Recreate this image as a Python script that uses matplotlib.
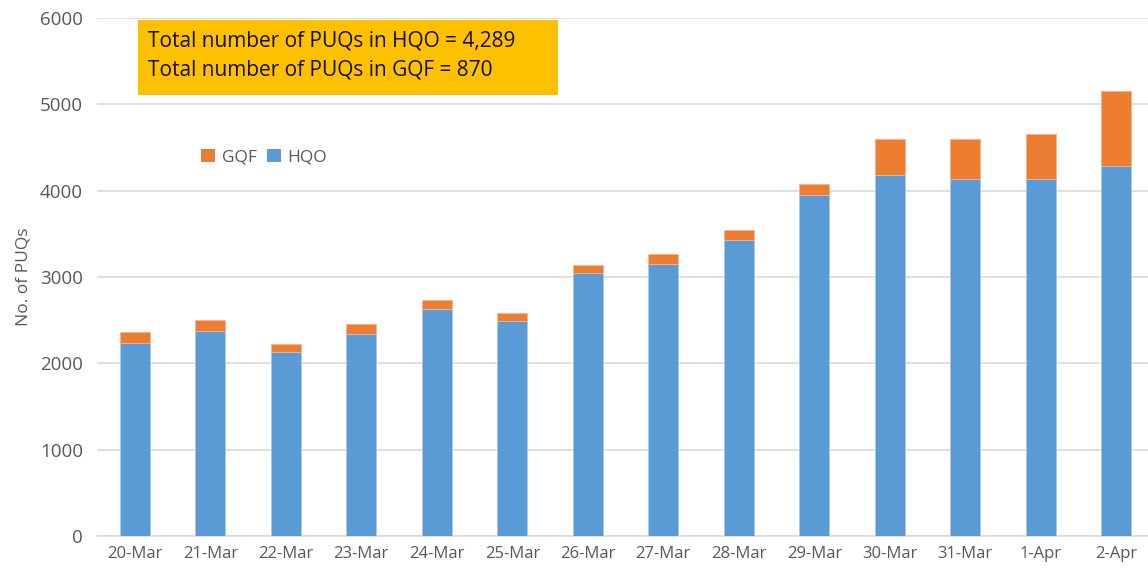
import matplotlib
matplotlib.use("Agg")
import matplotlib.pyplot as plt
from matplotlib.patches import Patch, Rectangle
import numpy as np

dates = ["20-Mar", "21-Mar", "22-Mar", "23-Mar", "24-Mar", "25-Mar", "26-Mar",
         "27-Mar", "28-Mar", "29-Mar", "30-Mar", "31-Mar", "1-Apr", "2-Apr"]
hqo = [2233, 2375, 2128, 2337, 2627, 2488, 3044, 3148, 3430, 3948, 4180, 4140, 4140, 4289]
gqf = [131, 131, 100, 119, 107, 99, 100, 116, 112, 127, 424, 457, 515, 870]
y_ticks = [0, 1000, 2000, 3000, 4000, 5000, 6000]
box_lines = ["Total number of PUQs in HQO = 4,289", "Total number of PUQs in GQF = 870"]

BLUE = "#5B9BD5"
ORANGE = "#ED7D31"
GRID = "#D9D9D9"
TXT = "#595959"

W, H = 1148, 572
fig = plt.figure(figsize=(W / 100, H / 100), dpi=100)
ax = fig.add_axes([97 / W, (H - 536) / H, 1057 / W, 518 / H])

x = np.arange(len(dates))
ax.bar(x, hqo, width=0.4, color=BLUE, edgecolor="#A9C8EA", linewidth=0.6, zorder=3, label="HQO")
ax.bar(x, gqf, bottom=hqo, width=0.4, color=ORANGE, edgecolor="#F5B48C", linewidth=0.6, zorder=3, label="GQF")

ax.set_xlim(-0.5, len(dates) - 0.5)
ax.set_ylim(0, 6000)
ax.set_yticks(y_ticks)
ax.set_xticks(x)
ax.set_xticklabels(dates, fontsize=12, color=TXT, family="Open Sans")
ax.set_yticklabels([str(v) for v in y_ticks], fontsize=13.5, color=TXT, family="Open Sans")
ax.tick_params(axis="both", length=0)
ax.tick_params(axis="x", pad=7)
ax.tick_params(axis="y", pad=10)
ax.grid(axis="y", color=GRID, linewidth=1.2, zorder=0)
for s in ["top", "right", "left"]:
    ax.spines[s].set_visible(False)
ax.spines["bottom"].set_color(GRID)
ax.spines["bottom"].set_linewidth(1.2)
ax.set_ylabel("No. of PUQs", fontsize=12.5, color=TXT, family="Open Sans", labelpad=6)

handles = [Patch(facecolor=ORANGE, label="GQF"), Patch(facecolor=BLUE, label="HQO")]
fig.legend(handles=handles, loc="center", bbox_to_anchor=(264 / W, 1 - 157 / H), ncol=2,
           frameon=False, prop={"family": "Open Sans", "size": 12.5}, labelcolor=TXT,
           handlelength=0.8, handleheight=0.8, handletextpad=0.4, columnspacing=0.6)

# yellow annotation box
fig.patches.append(Rectangle((138 / W, 1 - 95 / H), (558 - 138) / W, (95 - 20) / H,
                             transform=fig.transFigure, facecolor="#FFC000", edgecolor="none", zorder=5))
fig.text(148 / W, 1 - 41 / H, box_lines[0], fontsize=15, family="Open Sans", color="#111111",
         va="center", ha="left", zorder=6)
fig.text(148 / W, 1 - 70 / H, box_lines[1], fontsize=15, family="Open Sans", color="#111111",
         va="center", ha="left", zorder=6)

fig.savefig("out.png", dpi=100)
